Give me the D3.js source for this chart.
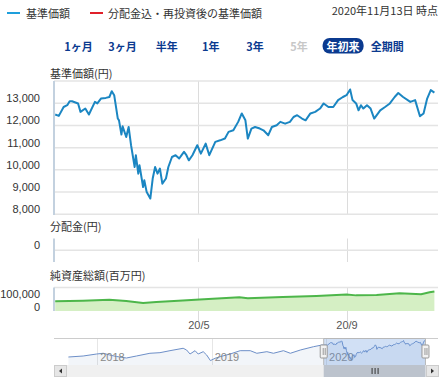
<!DOCTYPE html>
<html>
<head>
<meta charset="utf-8">
<script src="https://cdn.jsdelivr.net/npm/d3@7/dist/d3.min.js"></script>
<style>
body{margin:0;background:#fff;}
svg text{font-family:"Noto Sans CJK JP","Noto Sans",sans-serif;}
svg .num text{font-family:"Liberation Sans",Arial,sans-serif;}
</style>
</head>
<body>
<script>
// data
var legendLabels = ["基準価額", "分配金込・再投資後の基準価額"];
var dateNote = "2020年11月13日 時点";
var rangeButtons = ["1ヶ月", "3ヶ月", "半年", "1年", "3年", "5年", "年初来", "全期間"];
var panelTitles = ["基準価額(円)", "分配金(円)", "純資産総額(百万円)"];

var priceDates = ["2020-01-03","2020-01-06","2020-01-10","2020-01-13","2020-01-15","2020-01-17","2020-01-22","2020-01-24","2020-01-28","2020-01-31",
  "2020-02-05","2020-02-07","2020-02-10","2020-02-14","2020-02-17","2020-02-19","2020-02-21","2020-02-24","2020-02-25","2020-02-27","2020-02-28",
  "2020-03-02","2020-03-04","2020-03-06","2020-03-09","2020-03-10","2020-03-12","2020-03-13","2020-03-16","2020-03-17","2020-03-19","2020-03-22",
  "2020-03-24","2020-03-26","2020-03-28","2020-03-30","2020-04-01","2020-04-04","2020-04-06","2020-04-09","2020-04-12","2020-04-15","2020-04-17",
  "2020-04-19","2020-04-21","2020-04-23","2020-04-26","2020-04-30","2020-05-03","2020-05-07","2020-05-10","2020-05-15","2020-05-19","2020-05-23",
  "2020-05-26","2020-05-30","2020-06-03","2020-06-06","2020-06-09","2020-06-11","2020-06-14","2020-06-17","2020-06-21","2020-06-24","2020-06-28",
  "2020-07-01","2020-07-05","2020-07-08","2020-07-12","2020-07-16","2020-07-19","2020-07-22","2020-07-26","2020-07-29","2020-08-02","2020-08-06",
  "2020-08-10","2020-08-13","2020-08-17","2020-08-21","2020-08-25","2020-08-29","2020-09-01","2020-09-04","2020-09-06","2020-09-09","2020-09-11",
  "2020-09-13","2020-09-15","2020-09-18","2020-09-21","2020-09-24","2020-09-29","2020-10-03","2020-10-07","2020-10-11","2020-10-14","2020-10-18",
  "2020-10-24","2020-10-28","2020-11-01","2020-11-04","2020-11-07","2020-11-10","2020-11-13"];
var priceValues = [12490,12430,12830,12910,13090,13090,12990,12610,12760,12490,
  13060,12990,13210,13240,13280,13540,13360,12310,12230,11590,11960,
  11480,11930,11110,10130,10660,9830,10210,9230,9530,9000,8710,
  9610,10130,9830,10060,9380,9610,10130,10580,10660,10510,10660,
  10810,10660,10430,10660,11110,10730,11180,10660,11260,11330,11410,
  11710,11780,12160,12540,12230,11410,11860,11930,11860,11780,11560,
  11930,12010,12160,12080,12160,12380,12460,12310,12230,12540,12610,
  12760,12990,12830,12830,13140,13280,13360,13620,13140,12990,12680,
  12910,12760,12910,12760,12310,12680,12830,12990,13280,13460,13280,
  13060,13140,12410,12540,13210,13590,13480];

var distDates = [];   // no distributions paid
var distValues = [];

var netDates = ["2020-01-03","2020-01-26","2020-02-17","2020-03-02","2020-03-16","2020-03-27","2020-04-18","2020-05-02","2020-06-04","2020-06-11",
  "2020-07-10","2020-08-07","2020-09-01","2020-09-09","2020-09-26","2020-10-15","2020-11-02","2020-11-09","2020-11-13"];
var netValues = [82000,88000,95000,86000,68000,76000,90000,97000,118000,108000,
  119000,128000,141000,133000,136000,152000,142000,160000,166000];

// older history only shown in the navigator
var historyDates = ["2017-10-01","2017-11-17","2017-12-30","2018-01-20","2018-02-10","2018-03-03","2018-04-04","2018-05-06","2018-06-18","2018-07-20",
  "2018-08-21","2018-10-02","2018-10-13","2018-10-24","2018-11-09","2018-11-19","2018-12-05","2018-12-16","2018-12-28","2019-01-12",
  "2019-01-28","2019-03-01","2019-04-02","2019-05-04","2019-05-25","2019-06-26","2019-07-17","2019-08-18","2019-09-09","2019-10-11",
  "2019-11-22","2019-12-19"];
var historyValues = [9500,9750,10250,10430,10000,9630,9250,9750,10430,10580,
  11080,11680,11250,10250,11080,10250,10830,10000,8600,9180,
  9580,10250,11080,11080,10430,10830,10430,11080,10430,11250,
  12080,12500];

var priceTicks = [8000, 9000, 10000, 11000, 12000, 13000];
var netTicks = [0, 100000];
var monthTicks = ["2020-05-01", "2020-09-01"];
var yearTicks = ["2018-01-01", "2019-01-01", "2020-01-01"];

var width = 442, height = 381;
var left = 54, right = 438;
var parse = d3.timeParse("%Y-%m-%d");

var svg = d3.select("body").append("svg")
    .attr("width", width)
    .attr("height", height);

var x = d3.scaleTime()
    .domain([parse("2020-01-02"), parse("2020-11-16")])
    .range([left, right]);
var yPrice = d3.scaleLinear().domain([8000, 14000]).range([214.3, 81]);
var yDist = d3.scaleLinear().domain([-1, 1]).range([262, 238.5]);
var yNet = d3.scaleLinear().domain([0, 200000]).range([311, 287.5]);
var xNav = d3.scaleTime()
    .domain([parse("2017-08-16"), parse("2020-12-23")])
    .range([left, right]);
var yNav = d3.scaleLinear().domain([8000, 14000]).range([363, 339]);

var price = priceDates.map(function(d, i){ return {date: parse(d), value: priceValues[i]}; });
var net = netDates.map(function(d, i){ return {date: parse(d), value: netValues[i]}; });
var navData = historyDates.map(function(d, i){ return {date: parse(d), value: historyValues[i]}; })
    .concat(price);

var textColor = "#333";

//legend and date
var legend = svg.append("g");
[["#1e9fdc", 7, 26], ["#e0202a", 90, 108]].forEach(function(s, i){
    legend.append("line")
        .attr("x1", s[1]).attr("x2", s[1] + 13)
        .attr("y1", 13).attr("y2", 13)
        .attr("stroke", s[0]).attr("stroke-width", 2);
    legend.append("text")
        .attr("x", s[2]).attr("y", 13)
        .attr("dominant-baseline", "central")
        .attr("font-size", 11).attr("fill", textColor)
        .text(legendLabels[i]);
});
svg.append("text")
    .attr("x", 438).attr("y", 10)
    .attr("text-anchor", "end")
    .attr("dominant-baseline", "central")
    .attr("font-size", 11).attr("fill", textColor)
    .text(dateNote);

//range selector buttons
var buttons = svg.append("g").selectAll("g")
    .data(rangeButtons)
    .enter().append("g")
    .attr("transform", function(d, i){ return "translate(" + (78.5 + i * 44.1) + ",46)"; });
buttons.filter(function(d){ return d == "年初来"; })
    .append("rect")
    .attr("x", -20.5).attr("y", -8).attr("width", 41).attr("height", 15.5)
    .attr("rx", 7)
    .attr("fill", "#0b3a8f");
buttons.append("text")
    .attr("text-anchor", "middle")
    .attr("dominant-baseline", "central")
    .attr("font-size", 11).attr("font-weight", "bold")
    .attr("fill", function(d){
        if (d == "年初来") return "#fff";
        if (d == "5年") return "#c8c8c8";
        return "#0b3a8f";
    })
    .text(function(d){ return d; });

//panel titles
[73, 226, 275].forEach(function(y, i){
    svg.append("text")
        .attr("x", 50).attr("y", y)
        .attr("dominant-baseline", "central")
        .attr("font-size", 11).attr("fill", textColor)
        .text(panelTitles[i]);
});

//vertical grid lines through the three panels
var vgrid = svg.append("g").attr("stroke", "#dcdcdc").attr("stroke-width", 1);
[[81, 214.3], [238.5, 262], [287.5, 321]].forEach(function(p){
    vgrid.selectAll(null)
        .data(monthTicks)
        .enter().append("line")
        .attr("x1", function(d){ return Math.round(x(parse(d))) + 0.5; })
        .attr("x2", function(d){ return Math.round(x(parse(d))) + 0.5; })
        .attr("y1", p[0]).attr("y2", p[1]);
});

//price panel
svg.append("g").selectAll("line")
    .data(yPrice.ticks(6))
    .enter().append("line")
    .attr("x1", left).attr("x2", right)
    .attr("y1", function(d){ return yPrice(d); })
    .attr("y2", function(d){ return yPrice(d); })
    .attr("stroke", "#e4e4e4").attr("stroke-width", 1.5);

var priceAxis = svg.append("g")
    .attr("class", "num")
    .attr("transform", "translate(40,0)")
    .call(d3.axisLeft(yPrice).tickValues(priceTicks).tickFormat(d3.format(",")).tickSize(0).tickPadding(0));
priceAxis.select(".domain").remove();
priceAxis.selectAll("text")
    .attr("y", -5)
    .attr("font-size", 11).attr("fill", textColor);

svg.append("path")
    .datum(price)
    .attr("fill", "none")
    .attr("stroke", "#1b86c2")
    .attr("stroke-width", 2)
    .attr("stroke-linejoin", "round")
    .attr("d", d3.line()
        .x(function(d){ return x(d.date); })
        .y(function(d){ return yPrice(d.value); }));

//distribution panel
svg.append("line")
    .attr("x1", left).attr("x2", right)
    .attr("y1", yDist(0)).attr("y2", yDist(0))
    .attr("stroke", "#e4e4e4").attr("stroke-width", 1.5);
var distAxis = svg.append("g")
    .attr("class", "num")
    .attr("transform", "translate(40,0)")
    .call(d3.axisLeft(yDist).tickValues([0]).tickFormat(d3.format(",")).tickSize(0).tickPadding(0));
distAxis.select(".domain").remove();
distAxis.selectAll("text").attr("y", -5).attr("font-size", 11).attr("fill", textColor);
svg.append("g").selectAll("rect")
    .data(distValues)
    .enter().append("rect")
    .attr("x", function(d, i){ return x(parse(distDates[i])) - 2; })
    .attr("width", 4)
    .attr("y", function(d){ return yDist(d); })
    .attr("height", function(d){ return yDist(0) - yDist(d); })
    .attr("fill", "#7cb5ec");

//net assets panel
svg.append("line")
    .attr("x1", left).attr("x2", right)
    .attr("y1", yNet.range()[1]).attr("y2", yNet.range()[1])
    .attr("stroke", "#e4e4e4").attr("stroke-width", 1.5);
svg.append("path")
    .datum(net)
    .attr("fill", "#d5efc4")
    .attr("d", d3.area()
        .x(function(d){ return x(d.date); })
        .y0(yNet(0))
        .y1(function(d){ return yNet(d.value); }));
svg.append("path")
    .datum(net)
    .attr("fill", "none")
    .attr("stroke", "#4db64a")
    .attr("stroke-width", 2)
    .attr("d", d3.line()
        .x(function(d){ return x(d.date); })
        .y(function(d){ return yNet(d.value); }));
var netAxis = svg.append("g")
    .attr("class", "num")
    .attr("transform", "translate(40,0)")
    .call(d3.axisLeft(yNet).tickValues(netTicks).tickFormat(d3.format(",")).tickSize(0).tickPadding(0));
netAxis.select(".domain").remove();
netAxis.selectAll("text")
    .attr("y", function(d){ return d > 0 ? -5.5 : -4.5; })
    .attr("font-size", 11).attr("fill", textColor);

//left axis bars
[[81, 215], [238.5, 262], [287.5, 311]].forEach(function(p){
    svg.append("line")
        .attr("x1", left).attr("x2", left)
        .attr("y1", p[0]).attr("y2", p[1])
        .attr("stroke", "#c3d1df").attr("stroke-width", 2);
});

//date axis
var xAxis = svg.append("g")
    .attr("class", "num")
    .attr("transform", "translate(0,320)")
    .call(d3.axisBottom(x).tickValues(monthTicks.map(parse)).tickFormat(d3.timeFormat("%y/%-m")).tickSize(0).tickPadding(0));
xAxis.select(".domain").remove();
xAxis.selectAll("text")
    .attr("y", 5).attr("dy", "0.32em")
    .attr("font-size", 11).attr("fill", "#555");

//navigator
var nav = svg.append("g");
nav.append("g").selectAll("line")
    .data(yearTicks)
    .enter().append("line")
    .attr("x1", function(d){ return Math.round(xNav(parse(d))) + 0.5; })
    .attr("x2", function(d){ return Math.round(xNav(parse(d))) + 0.5; })
    .attr("y1", 338).attr("y2", 365)
    .attr("stroke", "#e6e6e6");
nav.append("path")
    .datum(navData)
    .attr("fill", "rgba(69,114,167,0.07)")
    .attr("d", d3.area()
        .x(function(d){ return xNav(d.date); })
        .y0(365)
        .y1(function(d){ return yNav(d.value); }));
nav.append("path")
    .datum(navData)
    .attr("fill", "none")
    .attr("stroke", "#6d8fc8")
    .attr("stroke-width", 1)
    .attr("d", d3.line()
        .x(function(d){ return xNav(d.date); })
        .y(function(d){ return yNav(d.value); }));
nav.append("g").attr("class", "num").selectAll("text")
    .data(yearTicks)
    .enter().append("text")
    .attr("x", function(d){ return xNav(parse(d)) + 3; })
    .attr("y", 357)
    .attr("dominant-baseline", "central")
    .attr("font-size", 11).attr("fill", "#888")
    .text(function(d){ return d3.timeFormat("%Y")(parse(d)); });

var selA = xNav(price[0].date) - 3, selB = xNav(price[price.length - 1].date);
nav.append("rect")
    .attr("x", selA).attr("y", 338).attr("width", selB - selA).attr("height", 27)
    .attr("fill", "rgba(102,153,221,0.3)");
nav.append("path")
    .attr("d", "M" + left + ",338.5H" + right)
    .attr("stroke", "#cccccc").attr("fill", "none");
nav.append("path")
    .attr("d", "M" + selA + ",365V338.5H" + selB + "V365")
    .attr("stroke", "#b8b8b8").attr("fill", "none");

//scrollbar
var sb = svg.append("g");
sb.append("rect").attr("x", left).attr("y", 365).attr("width", right - left).attr("height", 12).attr("fill", "#f0f0f0");
sb.append("rect").attr("x", selA).attr("y", 365).attr("width", selB - selA).attr("height", 12)
    .attr("fill", "#bcc3cd");
[left, right - 12].forEach(function(bx, i){
    sb.append("rect").attr("x", bx + 0.5).attr("y", 365.5).attr("width", 12).attr("height", 11)
        .attr("fill", "#e6e6e6").attr("stroke", "#cccccc");
    var cx = bx + 6.5;
    sb.append("path")
        .attr("d", i == 0 ? "M" + (cx + 1.5) + ",368.5L" + (cx - 1.5) + ",371L" + (cx + 1.5) + ",373.5Z"
                          : "M" + (cx - 1.5) + ",368.5L" + (cx + 1.5) + ",371L" + (cx - 1.5) + ",373.5Z")
        .attr("fill", "#333");
});
var gx = (selA + selB) / 2;
[-3, 0, 3].forEach(function(o){
    sb.append("line").attr("x1", gx + o + 0.5).attr("x2", gx + o + 0.5)
        .attr("y1", 368).attr("y2", 374).attr("stroke", "#333");
});

//handles
[selA, selB].forEach(function(hx){
    nav.append("rect").attr("x", hx - 3.5).attr("y", 345).attr("width", 7).attr("height", 13)
        .attr("fill", "#f2f2f2").attr("stroke", "#999").attr("rx", 1);
    nav.append("line").attr("x1", hx - 0.5).attr("x2", hx - 0.5).attr("y1", 348).attr("y2", 355).attr("stroke", "#999");
    nav.append("line").attr("x1", hx + 1.5).attr("x2", hx + 1.5).attr("y1", 348).attr("y2", 355).attr("stroke", "#999");
});
</script>
</body>
</html>
